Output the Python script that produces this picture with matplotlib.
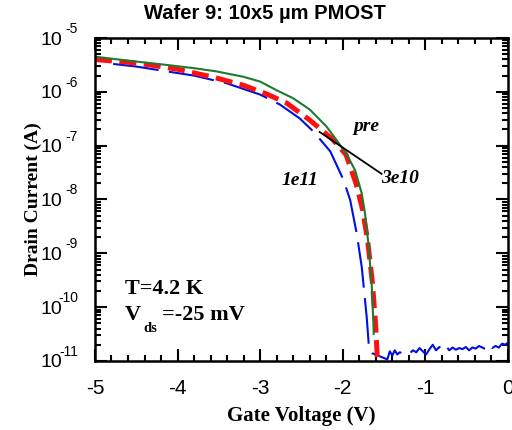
# Import
import numpy as np
import matplotlib.pyplot as plt
from matplotlib.ticker import FixedFormatter, LogLocator, MultipleLocator, FuncFormatter

plt.rcParams['font.family'] = 'Liberation Sans'

# Donnees : tension de grille (V) et courant de drain (A)
vg_pre = [-5.0, -4.6, -4.13, -3.8, -3.53, -3.2, -3.0, -2.8, -2.6, -2.4, -2.2,
          -2.08, -1.96, -1.85, -1.77, -1.73, -1.69, -1.65, -1.63, -1.625]
id_pre = [4.5e-6, 3.8e-6, 3.16e-6, 2.75e-6, 2.4e-6, 1.9e-6, 1.55e-6, 1.07e-6,
          7.6e-7, 4.7e-7, 2.3e-7, 1.3e-7, 7.2e-8, 3.5e-8, 1.3e-8, 5.5e-9,
          1.55e-9, 2.8e-10, 5.8e-11, 3.2e-11]

vg_3e10 = [-5.0, -4.6, -4.33, -4.0, -3.56, -3.2, -2.92, -2.68, -2.4, -2.12,
           -1.96, -1.84, -1.76, -1.70, -1.64, -1.60, -1.58]
id_3e10 = [3.98e-6, 3.55e-6, 3.16e-6, 2.63e-6, 1.86e-6, 1.32e-6, 9.1e-7, 6.2e-7,
           3.0e-7, 1.3e-7, 6.8e-8, 2.0e-8, 6.5e-9, 1.8e-9, 2.8e-10, 4.3e-11, 1.0e-11]

vg_1e11 = [-4.78, -4.5, -4.13, -3.8, -3.41, -3.0, -2.76, -2.52, -2.35, -2.15,
           -1.99, -1.91, -1.83, -1.77, -1.71, -1.68, -1.647,
           -1.46, -1.43, -1.40, -1.37, -1.34, -1.31, -1.27, -1.23, -1.19, -1.15,
           -1.11, -1.07, -1.03, -0.99, -0.95, -0.91, -0.87, -0.83, -0.79, -0.75,
           -0.71, -0.67, -0.63, -0.59, -0.55, -0.51, -0.47, -0.43, -0.39, -0.35,
           -0.31, -0.27, -0.23, -0.19, -0.15, -0.11, -0.07, -0.03, 0.0]
id_1e11 = [3.3e-6, 2.95e-6, 2.4e-6, 2.0e-6, 1.45e-6, 8.9e-7, 5.8e-7, 3.2e-7,
           1.8e-7, 7.8e-8, 2.3e-8, 9.8e-9, 2.3e-9, 5.6e-10, 6.6e-11, 1.6e-11, 1.4e-11,
           1.07e-11, 1.51e-11, 1.26e-11, 1.58e-11, 1.32e-11, 1.45e-11, 1.38e-11,
           1.48e-11, 1.38e-11, 1.58e-11, 1.45e-11, 1.74e-11, 1.51e-11, 1.32e-11,
           1.66e-11, 2.0e-11, 1.58e-11, 1.82e-11, 1.62e-11, 1.9e-11, 1.58e-11,
           1.78e-11, 1.62e-11, 1.74e-11, 1.66e-11, 1.82e-11, 1.58e-11, 1.78e-11,
           1.7e-11, 1.9e-11, 1.78e-11, 1.66e-11, 2.0e-11, 1.74e-11, 1.9e-11,
           1.78e-11, 2.1e-11, 2.0e-11, 2.2e-11]

# Graduations de l'axe y (exposants)
exposants = [-11, -10, -9, -8, -7, -6, -5]

# Trait d'annotation "3e10"
fleche_v = [-2.28, -1.53]
fleche_i = [1.8e-7, 3.0e-8]

# Partie affichage
fig = plt.figure(figsize=(5.12, 4.30), dpi=100)
ax = fig.add_axes([0.1855, 0.1605, 0.8065, 0.7511])

ax.plot(vg_1e11, id_1e11, color='#0010e0', lw=1.5, dashes=(22, 5))
ax.plot(vg_3e10, id_3e10, color='#ff1010', lw=3.6, dashes=(3.4, 1.5))
ax.plot(vg_pre, id_pre, color='#1e7a2e', lw=1.5)
ax.plot(fleche_v, fleche_i, color='black', lw=1.3)

ax.set_yscale('log')
ax.set_xlim(-5, 0)
ax.set_ylim(1e-11, 1e-5)

ax.xaxis.set_major_locator(MultipleLocator(1))
ax.xaxis.set_minor_locator(MultipleLocator(0.2))
ax.set_yticks([10.0 ** e for e in exposants])
ax.yaxis.set_minor_locator(LogLocator(base=10, subs=np.arange(2, 10), numticks=10))
ax.xaxis.set_major_formatter(FuncFormatter(lambda x, p: f"{x:.0f}".replace('-0', '0')))
ax.yaxis.set_major_formatter(FixedFormatter(["10"] * len(exposants)))

# exposants places en haut a droite de chaque "10"
for e in exposants:
    ax.annotate(f"{e}", xy=(0, 10.0 ** e), xycoords=('axes fraction', 'data'),
                xytext=(-17, 9), textcoords='offset pixels', ha='right', va='center',
                fontsize=10, annotation_clip=False)

ax.tick_params(which='both', direction='in', top=True, right=True, width=1.5)
ax.tick_params(which='major', length=8.5, labelsize=14)
ax.tick_params(axis='x', which='major', labelsize=15, pad=13)
ax.tick_params(axis='y', which='major', pad=23.5)
ax.tick_params(which='minor', length=4.3)
for s in ax.spines.values():
    s.set_linewidth(1.8)

ax.set_xlabel("Gate Voltage (V)", family='Liberation Serif', weight='bold', fontsize=15, labelpad=6)
ax.set_ylabel("Drain Current (A)", family='Liberation Serif', weight='bold', fontsize=14, labelpad=-1)
fig.text(0.518, 0.968, "Wafer 9: 10x5 µm PMOST", ha='center', va='center',
         fontsize=14.5, weight='bold')

# Etiquettes des courbes
ax.text(-1.71, 2.3e-7, "pre", family='Liberation Serif', weight='bold', style='italic',
        fontsize=14, ha='center', va='center')
ax.text(-2.52, 2.3e-8, "1e11", family='Liberation Serif', weight='bold', style='italic',
        fontsize=14, ha='center', va='center')
ax.text(-1.31, 2.5e-8, "3e10", family='Liberation Serif', weight='bold', style='italic',
        fontsize=14, ha='center', va='center')

ax.text(-4.64, 2.2e-10, "T=4.2 K", family='Liberation Serif', weight='bold',
        fontsize=16, ha='left', va='center')
ax.text(-4.64, 7e-11, "V", family='Liberation Serif', weight='bold',
        fontsize=16, ha='left', va='center')
ax.text(-4.42, 4.0e-11, "ds", family='Liberation Serif', weight='bold',
        fontsize=10.5, ha='left', va='center')
ax.text(-4.19, 7e-11, "=-25 mV", family='Liberation Serif', weight='bold',
        fontsize=16, ha='left', va='center')

plt.savefig("out.png", dpi=100)
